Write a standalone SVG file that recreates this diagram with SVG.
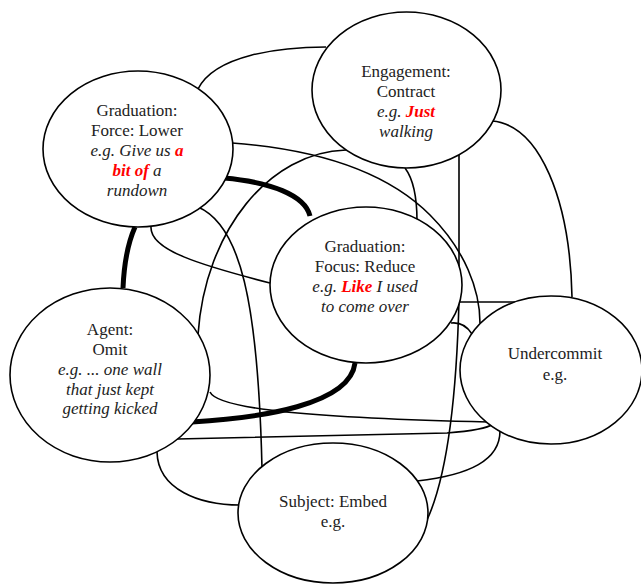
<svg xmlns="http://www.w3.org/2000/svg" width="641" height="587" viewBox="0 0 641 587">
<style>
.n{fill:#fff;stroke:#000;stroke-width:1.6}
.c{fill:none;stroke:#000;stroke-width:1.6}
.k{fill:none;stroke:#000;stroke-width:5}
text{font-family:"Liberation Serif","Times New Roman",serif;font-size:17px;fill:#222;text-anchor:middle}
.i{font-style:italic}
.r{fill:#ff0000;font-weight:bold;font-style:italic}
</style>
<rect width="641" height="587" fill="#fff"/>
<g id="connectors">
<path class="c" d="M198,89 C215,55 280,47 326,47"/>
<path class="c" d="M232,143 C300,148 380,165 430,215 C465,250 480,290 480,323"/>
<path class="c" d="M346,150 C270,152 205,230 198,335"/>
<path class="c" d="M492,121 C540,125 570,200 572,297"/>
<path class="c" d="M405,168 C414,180 417,200 417,221"/>
<path class="c" d="M459,155 L459,300 C457,380 450,470 427,520"/>
<path class="c" d="M460,302 L515,302"/>
<path class="c" d="M451,323 C460,322 467,326 472,334"/>
<path class="c" d="M151,227 C150,250 200,265 270,283"/>
<path class="c" d="M198,207 C240,225 258,300 262,468"/>
<path class="c" d="M210,392 C218,410 320,418 488,422"/>
<path class="c" d="M177,439 L447,433 Q485,430 493,424"/>
<path class="c" d="M417,481 C470,475 500,460 500,431"/>
<path class="c" d="M157,452 C158,490 200,505 240,505"/>
<path class="k" d="M224,178 C270,182 305,195 310,216"/>
<path class="k" d="M135,227 C127,245 124,265 123,288"/>
<path class="k" d="M192,422 C260,418 350,405 355,363"/>
</g>
<g id="n1">
<ellipse class="n" cx="138" cy="149" rx="95" ry="78"/>
<text x="137" y="116">Graduation:</text>
<text x="137" y="136">Force: Lower</text>
<text x="137" y="156" class="i">e.g. Give us <tspan class="r">a</tspan></text>
<text x="137" y="176" class="i"><tspan class="r">bit of</tspan> a</text>
<text x="137" y="196" class="i">rundown</text>
</g>
<g id="n2">
<ellipse class="n" cx="406.5" cy="90" rx="94.5" ry="78"/>
<text x="406" y="77">Engagement:</text>
<text x="406" y="97">Contract</text>
<text x="406" y="117" class="i">e.g. <tspan class="r">Just</tspan></text>
<text x="406" y="137" class="i">walking</text>
</g>
<g id="n3">
<ellipse class="n" cx="366" cy="285" rx="96" ry="78"/>
<text x="365" y="252">Graduation:</text>
<text x="365" y="272">Focus: Reduce</text>
<text x="365" y="292" class="i">e.g. <tspan class="r">Like</tspan> I used</text>
<text x="365" y="312" class="i">to come over</text>
</g>
<g id="n4">
<ellipse class="n" cx="110" cy="375" rx="100" ry="87"/>
<text x="110" y="335">Agent:</text>
<text x="110" y="355">Omit</text>
<text x="110" y="375" class="i">e.g. ... one wall</text>
<text x="110" y="395" class="i">that just kept</text>
<text x="110" y="414" class="i">getting kicked</text>
</g>
<g id="n5">
<ellipse class="n" cx="551" cy="370" rx="91" ry="74"/>
<text x="555" y="359">Undercommit</text>
<text x="555" y="380">e.g.</text>
</g>
<g id="n6">
<ellipse class="n" cx="333" cy="513" rx="95" ry="70"/>
<text x="333" y="507">Subject: Embed</text>
<text x="333" y="527">e.g.</text>
</g>
</svg>
